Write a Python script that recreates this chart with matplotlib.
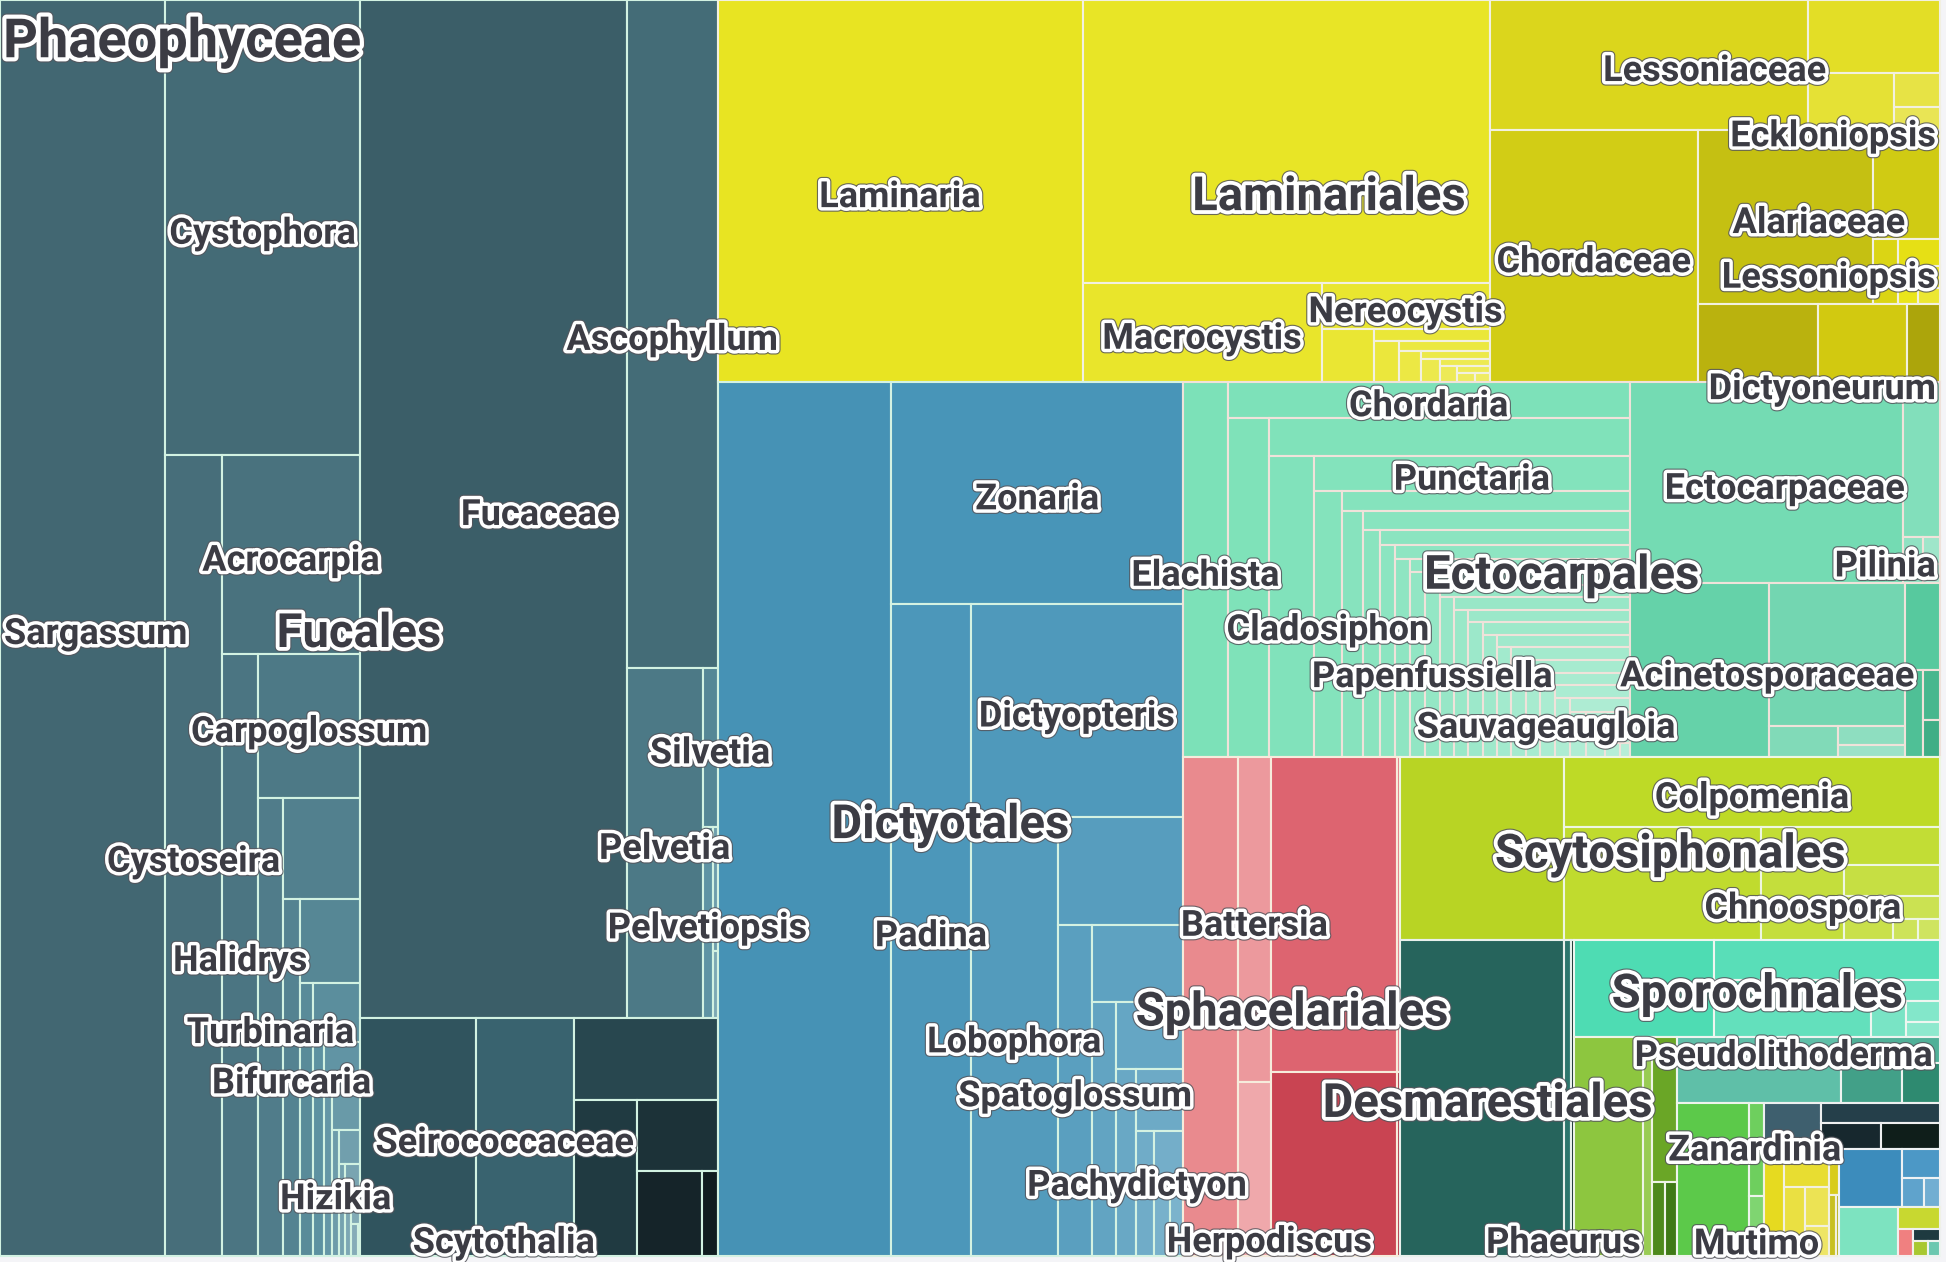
import colorsys
import matplotlib
matplotlib.use("Agg")
import matplotlib.pyplot as plt
from matplotlib.patches import Rectangle
import matplotlib.patheffects as pe
from matplotlib.colors import to_rgb

# ------------------------------------------------------------------ data
ROOT = "Phaeophyceae"

# Fucales
SARGASSACEAE = ["Sargassum", "Cystophora", "Cystoseira", "Acrocarpia", "Halidrys",
                "Carpoglossum", "Turbinaria", "Sirophysalis", "Bifurcaria", "Ericaria",
                "Gongolaria", "Carpophyllum", "Treptacantha", "Coccophora", "Landsburgia",
                "Myagropsis", "Hizikia", "Caulocystis", "Scaberia", "Platythalia",
                "Polycladia", "Anthophycus", "Myriodesma", "Stolonophora"]
SARGASSACEAE_N = [134596, 57619, 29670, 17760, 14065, 9512, 7380, 5022, 4032, 3264,
                  2300, 1800, 1450, 1150, 900, 700, 560, 450, 360, 290, 230, 180, 150, 40]
FUCACEAE = ["Fucus", "Ascophyllum", "Pelvetia", "Silvetia", "Pelvetiopsis",
            "Hesperophycus", "Fucodium"]
FUCACEAE_N = [176300, 39274, 17202, 1536, 1232, 400, 216]
SEIROCOCCACEAE = ["Phyllospora", "Scytothalia"]
SEIROCOCCACEAE_N = [17856, 15168]
DURVILLAEACEAE = ["Durvillaea"]
DURVILLAEACEAE_N = [7656]
HIMANTHALIACEAE = ["Himanthalia"]
HIMANTHALIACEAE_N = [6426]
HORMOSIRACEAE = ["Hormosira"]
HORMOSIRACEAE_N = [3705]
NOTHEIACEAE = ["Notheia"]
NOTHEIACEAE_N = [3588]
XIPHOPHORACEAE = ["Xiphophora"]
XIPHOPHORACEAE_N = [828]

# Laminariales
LAMINARIACEAE = ["Laminaria", "Saccharina", "Macrocystis", "Nereocystis", "Postelsia",
                 "Pelagophycus", "Hedophyllum", "Cymathaere", "Kjellmaniella", "Feditia",
                 "Streptophyllopsis", "Arthrothamnus", "Phyllariella", "Pleurophycus",
                 "Platysiphon", "Aureophycus"]
LAMINARIACEAE_N = [90552, 74863, 15360, 4995, 1806, 930, 660, 560, 450, 360, 290, 230,
                   180, 140, 110, 90]
LESSONIACEAE = ["Lessonia", "Ecklonia", "Eisenia", "Egregia", "Eckloniopsis"]
LESSONIACEAE_N = [26880, 6254, 3174, 1000, 702]
CHORDACEAE = ["Chorda"]
CHORDACEAE_N = [34104]
ALARIACEAE = ["Alaria", "Undaria", "Lessoniopsis", "Pterygophora", "Undariopsis",
              "Hirome", "Undariella"]
ALARIACEAE_N = [19740, 4752, 1040, 726, 500, 320, 222]
COSTARIACEAE = ["Costaria", "Dictyoneurum"]
COSTARIACEAE_N = [6100, 4484]
PSEUDOCHORDACEAE = ["Pseudochorda"]
PSEUDOCHORDACEAE_N = [1701]

# Dictyotales
DICTYOTACEAE = ["Dictyota", "Zonaria", "Padina", "Dictyopteris", "Lobophora",
                "Stypopodium", "Spatoglossum", "Canistrocarpus", "Taonia", "Dilophus",
                "Pachydictyon", "Distromium", "Rugulopteryx", "Homoeostrichus",
                "Chlanidophora", "Newhousia", "Exallosorus"]
DICTYOTACEAE_N = [98560, 42065, 33600, 29241, 24780, 8787, 7476, 4575, 3933, 2900,
                  2350, 1900, 1500, 1050, 700, 400, 183]

# Ectocarpales
CHORDARIACEAE = ["Elachista", "Chordaria", "Leathesia", "Mesogloia", "Stilophora",
                 "Punctaria", "Cladosiphon", "Myriactula", "Asperococcus", "Myrionema",
                 "Sphaerotrichia", "Eudesme", "Haplogloia", "Litosiphon", "Striaria",
                 "Stictyosiphon", "Microspongium", "Spermatochnus", "Papenfussiella",
                 "Tinocladia", "Myelophycus", "Heterosaundersella", "Myriotrichia",
                 "Hecatonema", "Compsonema", "Ulonema", "Streblonema", "Polytretus",
                 "Corynophlaea", "Giraudia", "Mesogloiopsis", "Acrothrix", "Halothrix",
                 "Dictyosiphon", "Coelocladia", "Delamarea", "Sauvageaugloia", "Gononema",
                 "Myriocladia", "Leptonematella", "Soranthera", "Caepidium",
                 "Laminariocolax", "Hummia"]
CHORDARIACEAE_N = [10872, 9396, 9050, 8950, 8850, 7084, 4730, 3700, 3380, 3370, 2560,
                   2400, 2060, 2050, 1980, 1870, 1790, 1720, 1610, 1580, 1490, 1420, 1380,
                   1310, 1260, 1190, 1130, 1080, 1020, 960, 900, 850, 790, 740, 680, 630,
                   580, 530, 480, 430, 380, 260, 140, 88]
ECTOCARPACEAE = ["Ectocarpus", "Feldmannia", "Pilinia", "Kuckuckia", "Spongonema"]
ECTOCARPACEAE_N = [35640, 3750, 592, 300, 218]
ACINETOSPORACEAE = ["Pylaiella", "Hincksia", "Acinetospora", "Herponema", "Geminocarpus"]
ACINETOSPORACEAE_N = [15680, 12650, 1400, 800, 550]
ADENOCYSTACEAE = ["Adenocystis"]
ADENOCYSTACEAE_N = [1960]
SCYTOTHAMNACEAE = ["Scytothamnus"]
SCYTOTHAMNACEAE_N = [980]
PETROSPONGIACEAE = ["Petrospongium"]
PETROSPONGIACEAE_N = [560]
CHORDARIOPSIDACEAE = ["Chordariopsis"]
CHORDARIOPSIDACEAE_N = [420]

# Sphacelariales
SPHACELARIACEAE = ["Sphacelaria", "Battersia", "Herpodiscus"]
SPHACELARIACEAE_N = [17688, 7074, 3780]
STYPOCAULACEAE = ["Halopteris", "Stypocaulon"]
STYPOCAULACEAE_N = [25650, 770]
CLADOSTEPHACEAE = ["Cladostephus"]
CLADOSTEPHACEAE_N = [14948]
SPHACELODERMACEAE = ["Sphaceloderma"]
SPHACELODERMACEAE_N = [444]

# Scytosiphonales
SCYTOSIPHONACEAE = ["Petalonia", "Colpomenia", "Scytosiphon", "Endarachne", "Chnoospora",
                    "Hydroclathrus", "Rosenvingea", "Iyengaria", "Melanosiphon",
                    "Planosiphon"]
SCYTOSIPHONACEAE_N = [19404, 16968, 14469, 4464, 4020, 1925, 1365, 684, 350, 296]

# Desmarestiales
DESMARESTIACEAE = ["Desmarestia", "Phaeurus"]
DESMARESTIACEAE_N = [33660, 1275]
ARTHROCLADIACEAE = ["Arthrocladia"]
ARTHROCLADIACEAE_N = [765]

# Sporochnales
SPOROCHNACEAE = ["Sporochnus", "Carpomitra", "Bellotia", "Nereia", "Perithalia",
                 "Encyothalia", "Tomaculopsis"]
SPOROCHNACEAE_N = [8814, 5900, 5800, 950, 800, 450, 330]

# small orders
RALFSIACEAE = ["Ralfsia", "Endoplura"]
RALFSIACEAE_N = [9735, 1239]
NEORALFSIACEAE = ["Neoralfsia"]
NEORALFSIACEAE_N = [2340]
MESOSPORACEAE = ["Mesospora"]
MESOSPORACEAE_N = [660]
ANALIPACEAE = ["Analipus"]
ANALIPACEAE_N = [540]

LITHODERMATACEAE = ["Pseudolithoderma"]
LITHODERMATACEAE_N = [7049]
ISHIGEACEAE = ["Ishige"]
ISHIGEACEAE_N = [1680]
PETRODERMATACEAE = ["Petroderma"]
PETRODERMATACEAE_N = [1568]
HETEROCHORDARIACEAE = ["Heterochordaria"]
HETEROCHORDARIACEAE_N = [992]

CUTLERIACEAE = ["Zanardinia", "Mutimo", "Cutleria"]
CUTLERIACEAE_N = [7192, 900, 588]

ASCOSEIRACEAE = ["Ascoseira"]
ASCOSEIRACEAE_N = [1702]
PHYLLARIACEAE = ["Saccorhiza"]
PHYLLARIACEAE_N = [1552]
HALOSIPHONACEAE = ["Halosiphon"]
HALOSIPHONACEAE_N = [1029]
TILOPTERIDACEAE = ["Haplospora"]
TILOPTERIDACEAE_N = [1008]

SYRINGODERMATACEAE = ["Syringoderma", "Microzonia", "Verosphacella", "Protohalopteris",
                      "Herpodiscopsis"]
SYRINGODERMATACEAE_N = [1400, 1100, 950, 600, 474]
ONSLOWIACEAE = ["Onslowia"]
ONSLOWIACEAE_N = [300]
CHORISTOCARPACEAE = ["Choristocarpus"]
CHORISTOCARPACEAE_N = [250]
NEMODERMATACEAE = ["Nemoderma"]
NEMODERMATACEAE_N = [146]

DISCOSPORANGIACEAE = ["Discosporangium", "Gemmaphycus", "Zeacarpa", "Discosporella"]
DISCOSPORANGIACEAE_N = [2340, 700, 400, 295]
VEROSPHACELLACEAE = ["Onslowiella"]
VEROSPHACELLACEAE_N = [1890]
SPLACHNIDIACEAE = ["Splachnidium"]
SPLACHNIDIACEAE_N = [608]
STSCHAPOVIACEAE = ["Stschapovia"]
STSCHAPOVIACEAE_N = [260]
PHAEOSTROPHIACEAE = ["Phaeostrophion"]
PHAEOSTROPHIACEAE_N = [200]
PHAEOSIPHONIELLACEAE = ["Phaeosiphoniella"]
PHAEOSIPHONIELLACEAE_N = [150]
ASTEROCLADACEAE = ["Asterocladon"]
ASTEROCLADACEAE_N = [120]

# hierarchy table built from the arrays above
TREE = [
    ("Fucales", [("Sargassaceae", SARGASSACEAE, SARGASSACEAE_N),
                 ("Fucaceae", FUCACEAE, FUCACEAE_N),
                 ("Seirococcaceae", SEIROCOCCACEAE, SEIROCOCCACEAE_N),
                 ("Durvillaeaceae", DURVILLAEACEAE, DURVILLAEACEAE_N),
                 ("Himanthaliaceae", HIMANTHALIACEAE, HIMANTHALIACEAE_N),
                 ("Hormosiraceae", HORMOSIRACEAE, HORMOSIRACEAE_N),
                 ("Notheiaceae", NOTHEIACEAE, NOTHEIACEAE_N),
                 ("Xiphophoraceae", XIPHOPHORACEAE, XIPHOPHORACEAE_N)]),
    ("Laminariales", [("Laminariaceae", LAMINARIACEAE, LAMINARIACEAE_N),
                      ("Lessoniaceae", LESSONIACEAE, LESSONIACEAE_N),
                      ("Chordaceae", CHORDACEAE, CHORDACEAE_N),
                      ("Alariaceae", ALARIACEAE, ALARIACEAE_N),
                      ("Costariaceae", COSTARIACEAE, COSTARIACEAE_N),
                      ("Pseudochordaceae", PSEUDOCHORDACEAE, PSEUDOCHORDACEAE_N)]),
    ("Dictyotales", [("Dictyotaceae", DICTYOTACEAE, DICTYOTACEAE_N)]),
    ("Ectocarpales", [("Chordariaceae", CHORDARIACEAE, CHORDARIACEAE_N),
                      ("Ectocarpaceae", ECTOCARPACEAE, ECTOCARPACEAE_N),
                      ("Acinetosporaceae", ACINETOSPORACEAE, ACINETOSPORACEAE_N),
                      ("Adenocystaceae", ADENOCYSTACEAE, ADENOCYSTACEAE_N),
                      ("Scytothamnaceae", SCYTOTHAMNACEAE, SCYTOTHAMNACEAE_N),
                      ("Petrospongiaceae", PETROSPONGIACEAE, PETROSPONGIACEAE_N),
                      ("Chordariopsidaceae", CHORDARIOPSIDACEAE, CHORDARIOPSIDACEAE_N)]),
    ("Sphacelariales", [("Sphacelariaceae", SPHACELARIACEAE, SPHACELARIACEAE_N),
                        ("Stypocaulaceae", STYPOCAULACEAE, STYPOCAULACEAE_N),
                        ("Cladostephaceae", CLADOSTEPHACEAE, CLADOSTEPHACEAE_N),
                        ("Sphacelodermaceae", SPHACELODERMACEAE, SPHACELODERMACEAE_N)]),
    ("Scytosiphonales", [("Scytosiphonaceae", SCYTOSIPHONACEAE, SCYTOSIPHONACEAE_N)]),
    ("Desmarestiales", [("Desmarestiaceae", DESMARESTIACEAE, DESMARESTIACEAE_N),
                        ("Arthrocladiaceae", ARTHROCLADIACEAE, ARTHROCLADIACEAE_N)]),
    ("Sporochnales", [("Sporochnaceae", SPOROCHNACEAE, SPOROCHNACEAE_N)]),
    ("Ralfsiales", [("Ralfsiaceae", RALFSIACEAE, RALFSIACEAE_N),
                    ("Neoralfsiaceae", NEORALFSIACEAE, NEORALFSIACEAE_N),
                    ("Mesosporaceae", MESOSPORACEAE, MESOSPORACEAE_N),
                    ("Analipaceae", ANALIPACEAE, ANALIPACEAE_N)]),
    ("Ishigeales", [("Lithodermataceae", LITHODERMATACEAE, LITHODERMATACEAE_N),
                    ("Ishigeaceae", ISHIGEACEAE, ISHIGEACEAE_N),
                    ("Petrodermataceae", PETRODERMATACEAE, PETRODERMATACEAE_N),
                    ("Heterochordariaceae", HETEROCHORDARIACEAE, HETEROCHORDARIACEAE_N)]),
    ("Tilopteridales", [("Cutleriaceae", CUTLERIACEAE, CUTLERIACEAE_N)]),
    ("Ascoseirales", [("Ascoseiraceae", ASCOSEIRACEAE, ASCOSEIRACEAE_N),
                      ("Phyllariaceae", PHYLLARIACEAE, PHYLLARIACEAE_N),
                      ("Halosiphonaceae", HALOSIPHONACEAE, HALOSIPHONACEAE_N),
                      ("Tilopteridaceae", TILOPTERIDACEAE, TILOPTERIDACEAE_N)]),
    ("Syringodermatales", [("Syringodermataceae", SYRINGODERMATACEAE, SYRINGODERMATACEAE_N),
                           ("Onslowiaceae", ONSLOWIACEAE, ONSLOWIACEAE_N),
                           ("Choristocarpaceae", CHORISTOCARPACEAE, CHORISTOCARPACEAE_N),
                           ("Nemodermataceae", NEMODERMATACEAE, NEMODERMATACEAE_N)]),
    ("Discosporangiales", [("Discosporangiaceae", DISCOSPORANGIACEAE, DISCOSPORANGIACEAE_N)]),
    ("Onslowiales", [("Verosphacellaceae", VEROSPHACELLACEAE, VEROSPHACELLACEAE_N)]),
    ("Scytothamnales", [("Splachnidiaceae", SPLACHNIDIACEAE, SPLACHNIDIACEAE_N)]),
    ("Stschapoviales", [("Stschapoviaceae", STSCHAPOVIACEAE, STSCHAPOVIACEAE_N)]),
    ("Nemodermatales", [("Phaeostrophiaceae", PHAEOSTROPHIACEAE, PHAEOSTROPHIACEAE_N)]),
    ("Phaeosiphoniellales", [("Phaeosiphoniellaceae", PHAEOSIPHONIELLACEAE,
                              PHAEOSIPHONIELLACEAE_N)]),
    ("Asterocladales", [("Asterocladaceae", ASTEROCLADACEAE, ASTEROCLADACEAE_N)]),
]

# labels that are visible in the chart
SHOWN = {
    "Fucales", "Laminariales", "Dictyotales", "Ectocarpales", "Sphacelariales",
    "Scytosiphonales", "Desmarestiales", "Sporochnales",
    "Fucaceae", "Seirococcaceae", "Lessoniaceae", "Chordaceae", "Alariaceae",
    "Ectocarpaceae", "Acinetosporaceae",
    "Sargassum", "Cystophora", "Acrocarpia", "Carpoglossum", "Cystoseira", "Halidrys",
    "Turbinaria", "Bifurcaria", "Hizikia", "Ascophyllum", "Silvetia", "Pelvetia",
    "Pelvetiopsis", "Scytothalia", "Laminaria", "Macrocystis", "Nereocystis",
    "Eckloniopsis", "Lessoniopsis", "Dictyoneurum", "Zonaria", "Padina", "Dictyopteris",
    "Lobophora", "Spatoglossum", "Pachydictyon", "Elachista", "Chordaria", "Punctaria",
    "Cladosiphon", "Papenfussiella", "Sauvageaugloia", "Pilinia", "Battersia",
    "Herpodiscus", "Colpomenia", "Chnoospora", "Phaeurus", "Pseudolithoderma",
    "Zanardinia", "Mutimo",
}

# ------------------------------------------------------------------ styles
# (family colours, total genus lightening, border colour)
STYLE = {
    "Fucales": (["#426772", "#3b5e68", "#30545e", "#28474f", "#203a41", "#1c3238",
                 "#152429", "#101c20"], 0.28, "#d2f2e2"),
    "Laminariales": (["#e8e422", "#dbd61c", "#d2cd15", "#c5c012", "#bab20e", "#aca50b"],
                     0.14, "#f2f0e0"),
    "Dictyotales": (["#4692b5"], 0.16, "#d4f2e2"),
    "Ectocarpales": (["#7ce1b8", "#74dbb3", "#65d2a9", "#57c99e", "#4fc096", "#48b78e",
                      "#40ae86"], 0.14, "#f0e2da"),
    "Sphacelariales": (["#e98a8e", "#dd6470", "#c94452", "#b23444"], 0.07, "#f6ecdc"),
    "Scytosiphonales": (["#b8d424"], 0.15, "#eef6e2"),
    "Desmarestiales": (["#26645c", "#0f2a27"], 0.15, "#e8f0ec"),
    "Sporochnales": (["#4edcb3"], 0.15, "#eef6f0"),
    "Ralfsiales": (["#8dc63f", "#6aa626", "#4e8a1c", "#3f7a16"], 0.15, "#eef4e6"),
    "Ishigeales": (["#5fbfa8", "#50b098", "#42a088", "#2e8a70"], 0.15, "#eef4f0"),
    "Tilopteridales": (["#5cc94a"], 0.15, "#eef4ec"),
    "Ascoseirales": (["#3e5f6e", "#253f4a", "#17282e", "#0f1e1a"], 0.15, "#eef0f0"),
    "Syringodermatales": (["#e6da20", "#d8cc1c", "#c8c020", "#b8b018"], 0.15, "#f2f0e0"),
    "Discosporangiales": (["#3c8cbc"], 0.15, "#eef2f4"),
    "Onslowiales": (["#7de3c0"], 0.15, "#eef4f0"),
    "Scytothamnales": (["#c8d830"], 0.15, "#f0f2e6"),
    "Stschapoviales": (["#f08080"], 0.15, "#f4eeee"),
    "Nemodermatales": (["#1e3a40"], 0.15, "#eef0f0"),
    "Phaeosiphoniellales": (["#a8c830"], 0.15, "#f0f2e6"),
    "Asterocladales": (["#6cc8b0"], 0.15, "#eef4f0"),
}
LIGHT_STEP = 0.05
CELL_LW = 1.5

FIG_W, FIG_H = 1946, 1262
CHART_W, CHART_H = 1940, 1256
TEXT_COLOR = "#3c3c44"
GENUS_FS, ORDER_FS, ROOT_FS = 26, 34, 39
LABEL_DY = 6
NUDGE = {
    "Seirococcaceae": (38, 0), "Scytothalia": (-21, 100), "Eckloniopsis": (0, 12),
    "Dictyoneurum": (0, 40), "Herpodiscus": (15, 67), "Phaeurus": (-4, 139),
    "Pseudolithoderma": (25, -20), "Zanardinia": (42, -35), "Mutimo": (0, 89),
    "Pachydictyon": (11, 17), "Sauvageaugloia": (-16, -6),
}


def alt_slice_dice(values, x, y, w, h):
    """Alternating slice-and-dice fill (column, row, column, ...)."""
    total = float(sum(values))
    area = w * h
    out = []
    direction = 0
    cx, cy, cw, ch = x, y, w, h
    for v in values:
        a = area * v / total
        if direction == 0:
            pw = a / ch if ch > 0 else 0.0
            out.append((cx, cy, pw, ch))
            cx += pw
            cw -= pw
        else:
            ph = a / cw if cw > 0 else 0.0
            out.append((cx, cy, cw, ph))
            cy += ph
            ch -= ph
        direction = 1 - direction
    return out


def brighten(c, dl):
    h, l, s = colorsys.rgb_to_hls(*to_rgb(c))
    return colorsys.hls_to_rgb(h, min(l + dl, 0.95), s)


plt.rcParams["font.family"] = ["Roboto", "DejaVu Sans"]
fig = plt.figure(figsize=(FIG_W / 100, FIG_H / 100), dpi=100)
fig.patch.set_facecolor("#f4f4f7")
ax = fig.add_axes([0, 0, 1, 1])
ax.set_xlim(0, FIG_W)
ax.set_ylim(FIG_H, 0)
ax.axis("off")

orders = []
for oname, fams in TREE:
    fams_sorted = []
    for fname, gen, vals in fams:
        pairs = sorted(zip(gen, vals), key=lambda p: -p[1])
        fams_sorted.append((fname, pairs, sum(v for _, v in pairs)))
    fams_sorted.sort(key=lambda f: -f[2])
    orders.append((oname, fams_sorted, sum(f[2] for f in fams_sorted)))
orders.sort(key=lambda o: -o[2])

label_jobs = []
order_rects = alt_slice_dice([o[2] for o in orders], 0, 0, CHART_W, CHART_H)
for (oname, fams, ototal), (ox, oy, ow, oh) in zip(orders, order_rects):
    fam_colors, light_total, border = STYLE[oname]
    fam_rects = alt_slice_dice([f[2] for f in fams], ox, oy, ow, oh)
    for fi, ((fname, pairs, ftotal), (fx, fy, fw, fh)) in enumerate(zip(fams, fam_rects)):
        base = fam_colors[min(fi, len(fam_colors) - 1)]
        g_rects = alt_slice_dice([v for _, v in pairs], fx, fy, fw, fh)
        n = len(pairs)
        for gi, ((gname, gv), (gx, gy, gw, gh)) in enumerate(zip(pairs, g_rects)):
            dl = min(LIGHT_STEP * gi, light_total * gi / (n - 1)) if n > 1 else 0.0
            ax.add_patch(Rectangle((gx, gy), gw, gh, facecolor=brighten(base, dl),
                                   edgecolor=border, linewidth=CELL_LW))
            if gname in SHOWN:
                label_jobs.append((0, gname, gx + gw / 2, gy + gh / 2))
        if fname in SHOWN:
            label_jobs.append((1, fname, fx + fw / 2, fy + fh / 2))
    if oname in SHOWN:
        label_jobs.append((2, oname, ox + ow / 2, oy + oh / 2))

renderer = fig.canvas.get_renderer()


def effects(lw):
    return [pe.Stroke(linewidth=lw + 1.6, foreground="#55555c", alpha=0.85),
            pe.Stroke(linewidth=lw, foreground="white"), pe.Normal()]


label_jobs.sort(key=lambda j: j[0])
for level, name, cx, cy in label_jobs:
    fs = ORDER_FS if level == 2 else GENUS_FS
    dx, dy = NUDGE.get(name, (0, 0))
    t = ax.text(cx + dx, cy + dy + LABEL_DY, name, ha="center", va="center",
                fontsize=fs, fontweight="bold", color=TEXT_COLOR,
                path_effects=effects(5.5 if level == 2 else 5), zorder=5 + level)
    bb = t.get_window_extent(renderer=renderer)
    half = bb.width / 2
    x = cx + dx
    margin = 4
    if x + half > CHART_W - margin:
        x = CHART_W - margin - half
    if x - half < margin:
        x = margin + half
    t.set_x(x)

ax.text(3, 43, ROOT, ha="left", va="center", fontsize=ROOT_FS, fontweight="bold",
        color=TEXT_COLOR, path_effects=effects(6), zorder=10)

fig.savefig("out.png", dpi=100, facecolor=fig.get_facecolor())
